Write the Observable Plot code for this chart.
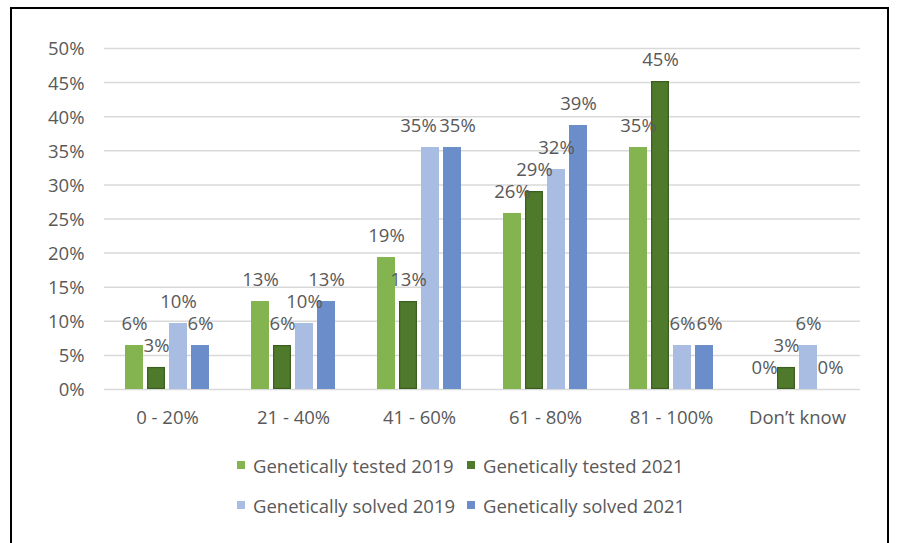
<!DOCTYPE html>
<html>
<head>
<meta charset="utf-8">
<script src="https://cdn.jsdelivr.net/npm/d3@7"></script>
<script src="https://cdn.jsdelivr.net/npm/@observablehq/plot@0.6"></script>
<style>
  html, body { margin: 0; padding: 0; background: #fff; overflow: hidden; }
  #wrap { position: relative; width: 898px; height: 543px; font-family: "Open Sans", sans-serif; }
  #frame { position: absolute; left: 10px; top: 7px; width: 875px; height: 580px; border: 2px solid #000; pointer-events: none; }
  #chart svg { display: block; }
  #legend { display: grid; grid-template-columns: 230px auto; margin-left: 237px; padding-top: 5px; color: #595959; font-size: 18.5px; }
  .item { display: flex; align-items: center; height: 40px; white-space: nowrap; }
  .sw { width: 8px; height: 8px; margin-right: 8px; flex: none; }
</style>
</head>
<body>
<div id="wrap">
  <div id="chart"></div>
  <div id="legend"></div>
  <div id="frame"></div>
</div>
<script>
const categories = ["0 - 20%", "21 - 40%", "41 - 60%", "61 - 80%", "81 - 100%", "Don\u2019t know"];
const series = ["Genetically tested 2019", "Genetically tested 2021", "Genetically solved 2019", "Genetically solved 2021"];
const tested2019 = [6.45, 12.90, 19.35, 25.81, 35.48, 0];
const tested2021 = [3.23, 6.45, 12.90, 29.03, 45.16, 3.23];
const solved2019 = [9.68, 9.68, 35.48, 32.26, 6.45, 6.45];
const solved2021 = [6.45, 12.90, 35.48, 38.71, 6.45, 0];
const yTicks = [0, 5, 10, 15, 20, 25, 30, 35, 40, 45, 50];
const colors = ["#84B450", "#4F792B", "#A9BDE2", "#6B8ECA"];

const seriesValues = [tested2019, tested2021, solved2019, solved2021];
const data = [];
categories.forEach((cat, i) => {
  series.forEach((s, j) => data.push({cat, series: s, value: seriesValues[j][i]}));
});

// labels that Excel nudged sideways to keep them apart
const nudgedLeft = d => d.cat === categories[2] && d.series === series[2];
const nudgedRight = d => (d.cat === categories[2] || d.cat === categories[4]) && d.series === series[3];
const plain = d => !nudgedLeft(d) && !nudgedRight(d);
const label = d => Math.round(d.value) + "%";
const textOpts = {fx: "cat", x: "series", y: "value", text: label, dy: -21, fill: "#595959"};

const chart = Plot.plot({
  width: 898,
  height: 440,
  marginLeft: 103,
  marginRight: 37,
  marginTop: 48,
  marginBottom: 51,
  style: {fontFamily: "Open Sans, sans-serif", fontSize: "18.5px", color: "#595959", background: "transparent", overflow: "visible"},
  fx: {domain: categories, padding: 0, label: null},
  x: {domain: series, paddingInner: 0.2, paddingOuter: 0.88, axis: null},
  y: {domain: [0, 50], label: null},
  color: {domain: series, range: colors},
  marks: [
    Plot.ruleY(yTicks, {stroke: "#d9d9d9", strokeWidth: 1.5}),
    Plot.barY(data, {fx: "cat", x: "series", y: "value", fill: "series"}),
    Plot.barY(data.filter(d => d.series === series[1]), {fx: "cat", x: "series", y: "value", fill: "none", stroke: "#3C5E20", strokeWidth: 1.2, inset: 0.6}),
    Plot.text(data.filter(plain), textOpts),
    Plot.text(data.filter(nudgedLeft), {...textOpts, dx: -12}),
    Plot.text(data.filter(nudgedRight), {...textOpts, dx: 5}),
    Plot.axisY({ticks: yTicks, tickFormat: d => d + "%", tickSize: 0, tickPadding: 20, label: null, fill: "#595959", dy: 1}),
    Plot.axisFx({anchor: "bottom", tickSize: 0, tickPadding: 21, label: null, fill: "#595959"})
  ]
});
document.getElementById("chart").appendChild(chart);

const legend = document.getElementById("legend");
series.forEach((s, j) => {
  const item = document.createElement("div");
  item.className = "item";
  const sw = document.createElement("span");
  sw.className = "sw";
  sw.style.background = colors[j];
  const t = document.createElement("span");
  t.textContent = s;
  item.appendChild(sw);
  item.appendChild(t);
  legend.appendChild(item);
});
</script>
</body>
</html>
